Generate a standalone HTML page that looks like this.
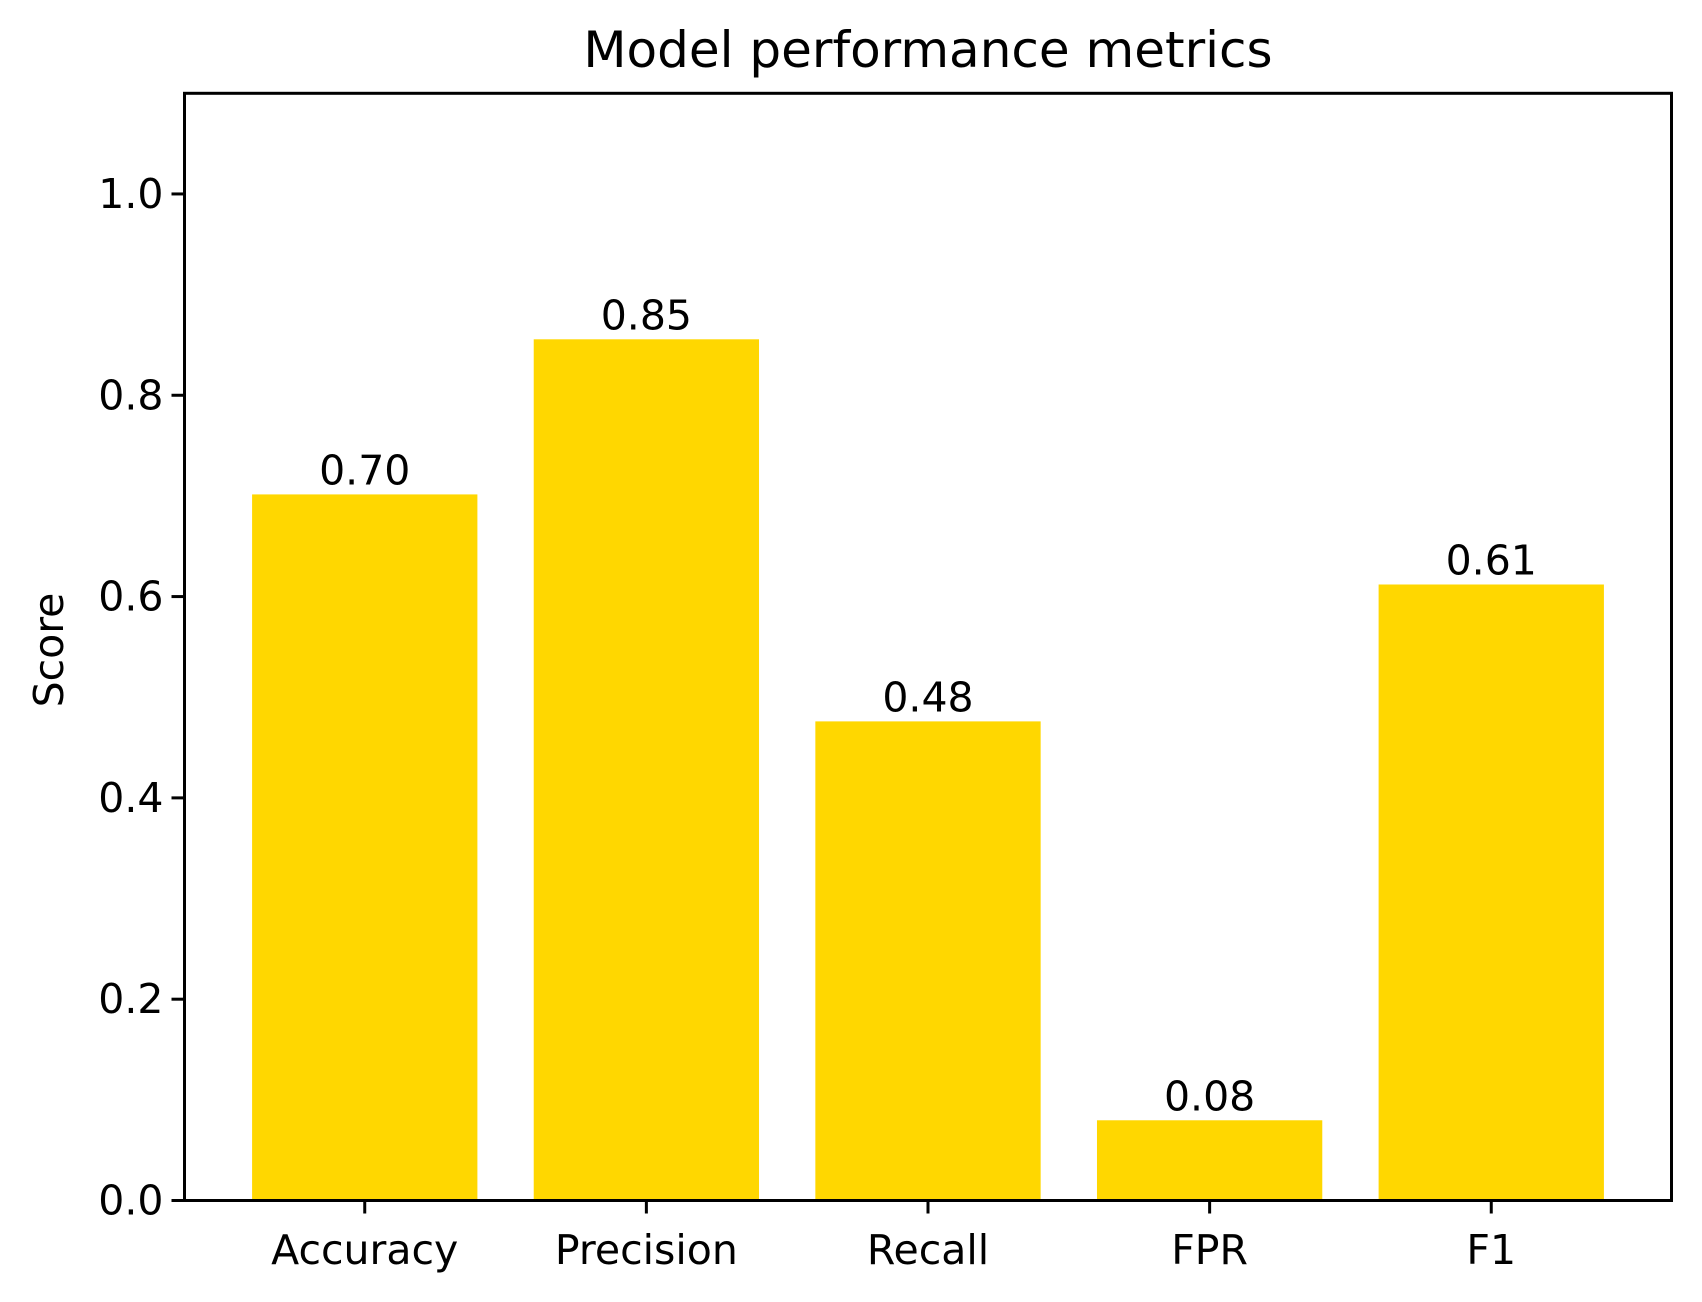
<!DOCTYPE html>
<html><head><meta charset="utf-8"><style>
html,body{margin:0;padding:0;background:#fff;}
svg{display:block;font-family:"DejaVu Sans","Liberation Sans",sans-serif;}
</style></head><body>
<svg id="chart" width="1702" height="1302" xmlns="http://www.w3.org/2000/svg">
<rect width="1702" height="1302" fill="#fff"/>
<text x="928" y="67" font-size="50" text-anchor="middle">Model performance metrics</text>
<text transform="translate(63,650) rotate(-90)" font-size="41" text-anchor="middle">Score</text>
<g id="bars"></g><g id="ticks"></g>
<rect x="184.5" y="93.3" width="1487" height="1107.2" fill="none" stroke="#000" stroke-width="3"/>
</svg>
<script>
const categories = ["Accuracy","Precision","Recall","FPR","F1"];
const values = [0.7015, 0.8556, 0.476, 0.0797, 0.612];
const valueLabels = ["0.70","0.85","0.48","0.08","0.61"];
const yTicks = [0, 0.2, 0.4, 0.6, 0.8, 1.0];
const yTickLabels = ["0.0","0.2","0.4","0.6","0.8","1.0"];

const L=184.5,R=1671.5,T=93.3,B=1200.5;
const xMin=-0.64,xMax=4.64,yMin=0,yMax=1.1;
const xs=v=>L+(v-xMin)/(xMax-xMin)*(R-L);
const ys=v=>B-(v-yMin)/(yMax-yMin)*(B-T);
const NS="http://www.w3.org/2000/svg";
const bars=document.getElementById('bars'), ticks=document.getElementById('ticks');
function mk(tag,attrs,parent){const e=document.createElementNS(NS,tag);for(const k in attrs)e.setAttribute(k,attrs[k]);parent.appendChild(e);return e;}
categories.forEach((c,i)=>{
  const x0=xs(i-0.4),x1=xs(i+0.4),y=ys(values[i]);
  const r=mk('rect',{x:x0,y:y,width:x1-x0,height:B-y,fill:'#FFD700'},bars);
  
  
  const t=mk('text',{x:xs(i),y:y-10,'font-size':41,'text-anchor':'middle'},bars);
  t.textContent=valueLabels[i];
  
  
  const tk=mk('line',{x1:xs(i),x2:xs(i),y1:B,y2:B+13,stroke:'#000','stroke-width':3},ticks);
  
  
  const tl=mk('text',{x:xs(i),y:1264,'font-size':41,'text-anchor':'middle'},ticks);
  tl.textContent=c;
  
  
});
yTicks.forEach((v,i)=>{
  const tk=mk('line',{x1:L-13,x2:L,y1:ys(v),y2:ys(v),stroke:'#000','stroke-width':3},ticks);
  
  
  const tl=mk('text',{x:L-21,y:ys(v)+14,'font-size':41,'text-anchor':'end'},ticks);
  tl.textContent=yTickLabels[i];
  
  
});
</script>
</body></html>
